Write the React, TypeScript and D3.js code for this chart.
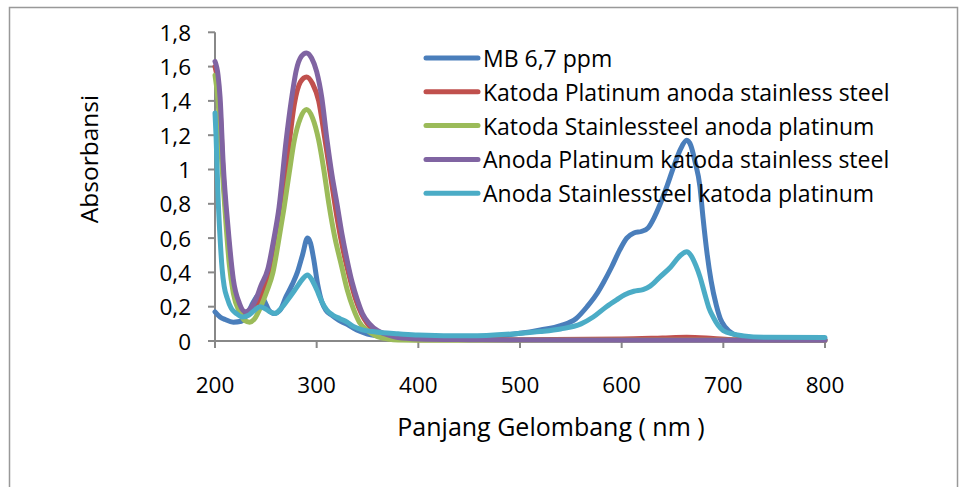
import React from 'react';
import * as d3 from 'd3';

const W = 960;
const H = 487;

const xTicks = [200, 300, 400, 500, 600, 700, 800];
const yTicks = [0, 0.2, 0.4, 0.6, 0.8, 1, 1.2, 1.4, 1.6, 1.8];

const seriesNames = [
  'MB 6,7 ppm',
  'Katoda Platinum anoda stainless steel',
  'Katoda Stainlessteel anoda platinum',
  'Anoda Platinum katoda stainless steel',
  'Anoda Stainlessteel katoda platinum'
];
const seriesColors = ['#4a7ebb', '#c0504d', '#9bbb59', '#8064a2', '#4bacc6'];

// [wavelength nm, absorbance]
const mb = [
  [200, 0.17], [205, 0.14], [210, 0.125], [218, 0.11], [226, 0.115], [232, 0.16], [238, 0.23],
  [243, 0.27], [248, 0.24], [253, 0.18], [258, 0.16], [264, 0.18], [270, 0.26], [276, 0.33],
  [281, 0.4], [286, 0.5], [291, 0.6], [294, 0.57], [297, 0.48], [301, 0.33], [305, 0.23],
  [309, 0.18], [315, 0.15], [322, 0.12], [329, 0.1], [336, 0.075], [343, 0.055], [350, 0.04],
  [360, 0.03], [380, 0.02], [400, 0.018], [450, 0.02], [500, 0.045], [520, 0.065], [540, 0.09],
  [555, 0.13], [566, 0.2], [575, 0.27], [582, 0.34], [590, 0.43], [598, 0.53], [605, 0.6],
  [612, 0.63], [620, 0.64], [626, 0.66], [632, 0.72], [638, 0.8], [645, 0.91], [652, 1.03],
  [658, 1.12], [664, 1.17], [668, 1.14], [672, 1.05], [677, 0.9], [680, 0.72], [684, 0.51],
  [688, 0.35], [693, 0.21], [697, 0.13], [702, 0.08], [710, 0.04], [720, 0.025], [740, 0.015],
  [800, 0.012]
];

const katodaPt = [
  [200, 1.6], [203, 1.5], [205, 1.35], [208, 0.98], [213, 0.6], [218, 0.33], [224, 0.2],
  [231, 0.15], [236, 0.17], [242, 0.22], [248, 0.3], [255, 0.45], [260, 0.6], [266, 0.78],
  [272, 1.1], [278, 1.38], [284, 1.51], [290, 1.54], [296, 1.5], [302, 1.4], [308, 1.18],
  [314, 0.95], [320, 0.72], [326, 0.53], [332, 0.38], [338, 0.25], [344, 0.16], [350, 0.1],
  [358, 0.05], [368, 0.025], [380, 0.012], [400, 0.008], [500, 0.008], [600, 0.012],
  [640, 0.018], [664, 0.022], [690, 0.015], [710, 0.008], [750, 0.005], [800, 0.005]
];

const katodaSS = [
  [200, 1.55], [203, 1.4], [206, 1.1], [210, 0.75], [214, 0.45], [218, 0.28], [224, 0.17],
  [229, 0.12], [234, 0.11], [239, 0.13], [245, 0.2], [251, 0.29], [257, 0.4], [263, 0.6],
  [268, 0.78], [273, 0.98], [278, 1.17], [284, 1.3], [290, 1.35], [296, 1.3], [302, 1.17],
  [307, 1.0], [312, 0.8], [318, 0.6], [324, 0.45], [330, 0.3], [336, 0.19], [342, 0.11],
  [350, 0.06], [358, 0.03], [370, 0.012], [380, 0.006], [400, 0.005], [500, 0.005], [800, 0.005]
];

const anodaPt = [
  [200, 1.63], [203, 1.55], [205, 1.42], [208, 1.04], [213, 0.65], [218, 0.36], [224, 0.22],
  [230, 0.17], [235, 0.19], [240, 0.24], [245, 0.32], [252, 0.42], [258, 0.6], [263, 0.78],
  [270, 1.17], [275, 1.4], [280, 1.58], [285, 1.66], [290, 1.68], [295, 1.65], [300, 1.57],
  [305, 1.42], [310, 1.18], [315, 0.97], [320, 0.8], [325, 0.62], [330, 0.47], [335, 0.34],
  [340, 0.24], [345, 0.16], [352, 0.1], [360, 0.06], [368, 0.04], [380, 0.02], [400, 0.012],
  [450, 0.008], [500, 0.006], [600, 0.005], [800, 0.005]
];

const anodaSS = [
  [200, 1.33], [201, 1.2], [203, 0.84], [205, 0.6], [207, 0.42], [209, 0.32], [212, 0.25],
  [216, 0.19], [221, 0.16], [227, 0.14], [233, 0.15], [239, 0.18], [244, 0.2], [249, 0.19],
  [254, 0.17], [259, 0.16], [265, 0.19], [274, 0.26], [280, 0.31], [286, 0.36], [291, 0.385],
  [295, 0.36], [300, 0.3], [305, 0.23], [310, 0.18], [316, 0.15], [323, 0.13], [330, 0.11],
  [336, 0.085], [345, 0.065], [355, 0.055], [365, 0.048], [380, 0.042], [400, 0.035],
  [450, 0.03], [500, 0.045], [520, 0.055], [540, 0.07], [560, 0.1], [572, 0.14], [585, 0.2],
  [595, 0.24], [603, 0.27], [612, 0.29], [621, 0.3], [628, 0.32], [637, 0.37], [648, 0.43],
  [658, 0.5], [664, 0.52], [668, 0.5], [673, 0.44], [677, 0.375], [682, 0.27], [686, 0.19],
  [690, 0.14], [695, 0.09], [700, 0.06], [710, 0.04], [720, 0.03], [740, 0.022], [800, 0.02]
];

const seriesData = [mb, katodaPt, katodaSS, anodaPt, anodaSS];

const font = '"Open Sans", Lato, sans-serif';

const App = () => {
  const x = d3.scaleLinear().domain([200, 800]).range([215, 825]);
  const y = d3.scaleLinear().domain([0, 1.8]).range([341, 32.3]);

  const line = d3.line<number[]>()
    .x(d => x(d[0]))
    .y(d => y(d[1]))
    .curve(d3.curveMonotoneX);

  const fmt = (v: number) => String(+v.toFixed(1)).replace('.', ',');

  return (
    <svg width={W} height={H} style={{ position: 'absolute', left: 0, top: 0, background: '#fff' }}>
      {/* outer frame */}
      <rect x={9.5} y={7.5} width={948} height={500} fill="#fff" stroke="#999" strokeWidth={1.5} />

      {/* axes */}
      <line x1={x(200)} x2={x(200)} y1={y(0)} y2={y(1.8)} stroke="#888" strokeWidth={2} />
      <line x1={x(200) - 7} x2={x(800)} y1={y(0)} y2={y(0)} stroke="#888" strokeWidth={2} />

      {yTicks.map((t, i) => (
        <g key={i}>
          <line x1={x(200) - 7} x2={x(200)} y1={y(t)} y2={y(t)} stroke="#888" strokeWidth={2} />
          <text x={191} y={y(t)} textAnchor="end" dominantBaseline="central"
            fontFamily={font} fontSize={22.5} fill="#000">{fmt(t)}</text>
        </g>
      ))}

      {xTicks.map((t, i) => (
        <g key={i}>
          <line x1={x(t)} x2={x(t)} y1={y(0)} y2={y(0) + 7} stroke="#888" strokeWidth={2} />
          <text x={x(t)} y={384} textAnchor="middle" dominantBaseline="central"
            fontFamily={font} fontSize={22.5} fill="#000">{t}</text>
        </g>
      ))}

      {/* series */}
      {seriesData.map((s, i) => (
        <path key={i} d={line(s) || ''} fill="none" stroke={seriesColors[i]}
          strokeWidth={5} strokeLinejoin="round" strokeLinecap="round" />
      ))}

      {/* legend */}
      {seriesNames.map((name, i) => {
        const ly = 58 + i * 33.8;
        return (
          <g key={i}>
            <line x1={426} x2={478} y1={ly} y2={ly} stroke={seriesColors[i]}
              strokeWidth={5} strokeLinecap="round" />
            <text x={483} y={ly} dominantBaseline="central" fontFamily={font}
              fontSize={23} fill="#000">{name}</text>
          </g>
        );
      })}

      {/* axis titles */}
      <text x={551} y={426} textAnchor="middle" dominantBaseline="central"
        fontFamily={font} fontSize={25} fill="#000">Panjang Gelombang ( nm )</text>
      <text transform="translate(88,159) rotate(-90)" textAnchor="middle" dominantBaseline="central"
        fontFamily={font} fontSize={24.5} fill="#000">Absorbansi</text>
    </svg>
  );
};

export default App;
